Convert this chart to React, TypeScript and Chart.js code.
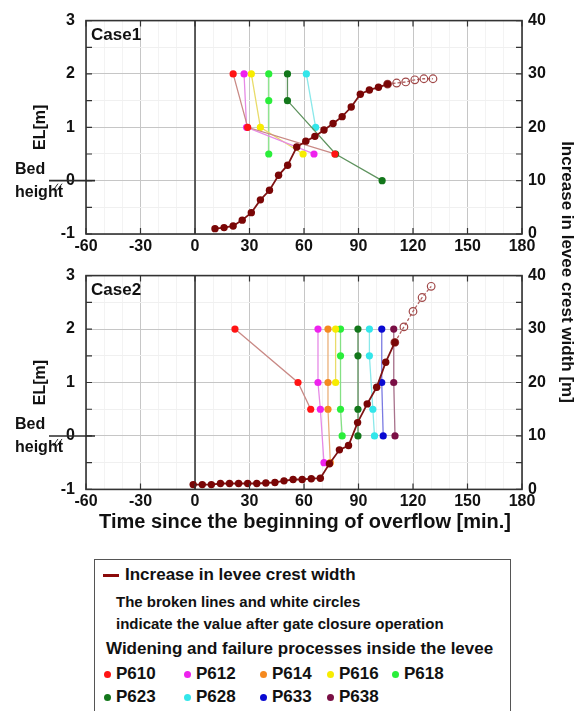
import React, { useEffect, useRef } from 'react';
import { Chart, registerables } from 'chart.js';

Chart.register(...registerables);

// ---------- Data ----------
const xTickValues = [-60, -30, 0, 30, 60, 90, 120, 150, 180];
const elTickValues = [-1, 0, 1, 2, 3];
const widthTickValues = [0, 10, 20, 30, 40];

// Case 1: increase in levee crest width [m] (right axis)
const case1Time = [11, 16, 21, 26, 31, 36, 41, 46, 51, 56, 61, 66, 71, 76, 81, 86, 91, 96, 101, 106];
const case1Width = [1.0, 1.2, 1.5, 2.6, 4.0, 6.4, 8.2, 11.0, 12.9, 16.3, 17.4, 18.3, 19.5, 20.7, 22.0, 23.8, 26.2, 27.0, 27.5, 28.1];
const case1AfterTime = [106, 111, 116, 121, 126, 131];
const case1AfterWidth = [28.1, 28.3, 28.5, 28.9, 29.1, 29.1];

// Case 1: widening / failure processes (time, EL)
const case1P610 = [[21, 2], [29, 1], [77, 0.5]];
const case1P612 = [[27, 2], [28.4, 1], [65.5, 0.5]];
const case1P616 = [[31, 2], [36, 1], [59.5, 0.5]];
const case1P618 = [[40.6, 2], [40.6, 1.5], [40.6, 0.5]];
const case1P623 = [[50.9, 2], [50.9, 1.5], [77.4, 0.5], [103, 0]];
const case1P628 = [[61.3, 2], [66.4, 1]];

// Case 2: increase in levee crest width [m]
const case2Time = [-1, 4, 9, 14, 19, 24, 29, 34, 39, 44, 49, 54, 59, 64, 69, 74, 79.5, 84.5, 89.5, 94.8, 100, 105, 110];
const case2Width = [0.9, 0.9, 0.9, 1.1, 1.1, 1.1, 1.1, 1.1, 1.2, 1.3, 1.6, 1.85, 1.85, 2.0, 2.1, 4.8, 7.4, 8.2, 12.5, 16.0, 19.1, 23.8, 27.5];
const case2AfterTime = [110, 115, 120, 125, 130];
const case2AfterWidth = [27.5, 30.4, 33.3, 35.9, 38.0];

// Case 2: widening / failure processes (time, EL)
const case2P610 = [[22, 2], [56.7, 1], [63.7, 0.5]];
const case2P612 = [[67.7, 2], [67.7, 1], [69, 0.5], [71, -0.5]];
const case2P614 = [[73.2, 2], [73.2, 1], [73.2, 0.5], [74.5, -0.5]];
const case2P616 = [[77.4, 2], [77.4, 1]];
const case2P618 = [[80.1, 2], [80.1, 1.5], [80.1, 0.5], [81, 0]];
const case2P623 = [[89.7, 2], [89.7, 1.5], [89.7, 0.5], [89.7, 0]];
const case2P628 = [[96, 2], [96, 1.5], [97.9, 0.5], [98.8, 0]];
const case2P633 = [[102.8, 2], [102.8, 1], [103.6, 0]];
const case2P638 = [[109.4, 2], [109.4, 1], [110.1, 0]];

const sensorNames = ['P610', 'P612', 'P614', 'P616', 'P618', 'P623', 'P628', 'P633', 'P638'];

// ---------- Styles ----------
const FONT = '"Liberation Sans", Arial, Helvetica, sans-serif';
const sensorPointColors: Record<string, string> = {
  P610: '#ff1414', P612: '#ee22ee', P614: '#f5891f', P616: '#f7ec00', P618: '#2aee3a',
  P623: '#13771b', P628: '#33e6ea', P633: '#0a0ad2', P638: '#7a0f45',
};
const sensorLineColors: Record<string, string> = {
  P610: '#c98a86', P612: '#e68ae6', P614: '#eab07a', P616: '#e9dc6a', P618: '#84e184',
  P623: '#5f935f', P628: '#8ae8ea', P633: '#7a7ae2', P638: '#a9728c',
};
const crestColor = '#7a0606';
const crestLine = '#7f1414';
const crestAfterLine = '#b26262';

const CANVAS_W = 577;
const CHART_H = 255;

function sensorDataset(name: string, pts: number[][]) {
  return {
    label: name,
    data: pts.map(([x, y]) => ({ x, y })),
    yAxisID: 'y',
    showLine: true,
    borderColor: sensorLineColors[name],
    borderWidth: 1.3,
    backgroundColor: sensorPointColors[name],
    pointBackgroundColor: sensorPointColors[name],
    pointBorderColor: sensorPointColors[name],
    pointRadius: 3.6,
    pointBorderWidth: 0,
    tension: 0,
  };
}

function crestDatasets(time: number[], width: number[], afterTime: number[], afterWidth: number[]) {
  return [
    {
      label: 'Increase in levee crest width',
      data: time.map((t, i) => ({ x: t, y: width[i] })),
      yAxisID: 'y2',
      showLine: true,
      borderColor: crestLine,
      borderWidth: 1.8,
      backgroundColor: crestColor,
      pointBackgroundColor: crestColor,
      pointBorderColor: crestColor,
      pointRadius: 3.7,
      pointBorderWidth: 0,
      tension: 0,
    },
    {
      label: 'after gate closure',
      data: afterTime.map((t, i) => ({ x: t, y: afterWidth[i] })),
      yAxisID: 'y2',
      showLine: true,
      borderColor: crestAfterLine,
      borderWidth: 1.3,
      borderDash: [3, 2],
      backgroundColor: 'rgba(255,255,255,0)',
      pointBackgroundColor: 'rgba(255,255,255,0)',
      pointBorderColor: '#a04848',
      pointRadius: 3.8,
      pointBorderWidth: 1.2,
      tension: 0,
    },
  ];
}

const extrasPlugin = {
  id: 'extras',
  beforeDatasetsDraw(chart: any) {
    const { ctx, chartArea } = chart;
    const x0 = chart.scales.x.getPixelForValue(0);
    ctx.save();
    ctx.strokeStyle = '#3a3a3a';
    ctx.lineWidth = 1.6;
    ctx.beginPath();
    ctx.moveTo(x0, chartArea.top);
    ctx.lineTo(x0, chartArea.bottom);
    ctx.stroke();
    ctx.restore();
  },
  afterDraw(chart: any, _args: any, opts: any) {
    const { ctx, chartArea } = chart;
    const { left, right, top, bottom } = chartArea;
    const xs = chart.scales.x;
    const ys = chart.scales.y;
    const y2 = chart.scales.y2;
    ctx.save();
    // frame
    ctx.strokeStyle = '#333';
    ctx.lineWidth = 1.6;
    ctx.strokeRect(left, top, right - left, bottom - top);
    // inward ticks
    ctx.lineWidth = 1.2;
    ctx.beginPath();
    for (let v = -1; v <= 3.001; v += 0.5) {
      const py = ys.getPixelForValue(v);
      ctx.moveTo(left, py);
      ctx.lineTo(left + 6, py);
    }
    for (let v = 0; v <= 40.01; v += 5) {
      const py = y2.getPixelForValue(v);
      ctx.moveTo(right, py);
      ctx.lineTo(right - 6, py);
    }
    for (const v of xTickValues) {
      const px = xs.getPixelForValue(v);
      ctx.moveTo(px, top);
      ctx.lineTo(px, top + 6);
      ctx.moveTo(px, bottom);
      ctx.lineTo(px, bottom - 6);
    }
    ctx.stroke();

    // Bed height marker
    const yb = ys.getPixelForValue(0);
    ctx.strokeStyle = '#2a2a2a';
    ctx.lineWidth = 1.6;
    ctx.beginPath();
    ctx.moveTo(left - 37, yb);
    ctx.lineTo(left + 9, yb);
    ctx.stroke();
    ctx.lineWidth = 1;
    ctx.beginPath();
    ctx.moveTo(left - 33, yb + 10);
    ctx.lineTo(left - 28, yb + 3);
    ctx.moveTo(left - 29, yb + 10);
    ctx.lineTo(left - 24, yb + 3);
    ctx.stroke();

    ctx.fillStyle = '#111';
    ctx.font = `bold 16px ${FONT}`;
    ctx.textAlign = 'left';
    ctx.textBaseline = 'middle';
    ctx.fillText('Bed', 15, yb - 11);
    ctx.fillText('height', 15, yb + 12);

    // EL[m] title
    ctx.save();
    ctx.translate(41, (top + bottom) / 2);
    ctx.rotate(-Math.PI / 2);
    ctx.textAlign = 'center';
    ctx.font = `bold 16px ${FONT}`;
    ctx.fillText('EL[m]', 0, 0);
    ctx.restore();

    // Case label
    ctx.font = `bold 17px ${FONT}`;
    ctx.textAlign = 'left';
    ctx.fillText(opts.label, left + 5, top + 15);
    ctx.restore();
  },
};

function makeConfig(label: string, datasets: any[], padTop: number, xHeight: number) {
  const tickFont = { family: FONT, size: 16, weight: 'bold' as const };
  return {
    type: 'scatter' as const,
    data: { datasets },
    options: {
      responsive: false,
      maintainAspectRatio: false,
      animation: false as const,
      events: [],
      layout: { padding: { top: padTop, left: 0, right: 0, bottom: 0 } },
      plugins: {
        legend: { display: false },
        tooltip: { enabled: false },
        extras: { label },
      },
      scales: {
        x: {
          type: 'linear' as const,
          min: -60,
          max: 180,
          ticks: {
            stepSize: 10,
            autoSkip: false,
            maxRotation: 0,
            padding: 3,
            color: '#111',
            font: tickFont,
            callback: (v: any) => (xTickValues.includes(Number(v)) ? String(v) : ''),
          },
          grid: {
            drawTicks: false,
            lineWidth: 1,
            color: (c: any) => (xTickValues.includes(c.tick?.value) ? '#c6c6c6' : '#f3f3f3'),
          },
          border: { display: false },
          afterFit: (s: any) => { s.height = xHeight; },
        },
        y: {
          type: 'linear' as const,
          position: 'left' as const,
          min: -1,
          max: 3,
          ticks: {
            stepSize: 0.5,
            autoSkip: false,
            padding: 11,
            color: '#111',
            font: tickFont,
            callback: (v: any) => (elTickValues.includes(Number(v)) ? String(v) : ''),
          },
          grid: {
            drawTicks: false,
            lineWidth: 1,
            color: (c: any) => (elTickValues.includes(c.tick?.value) ? '#c6c6c6' : '#f0f0f0'),
          },
          border: { display: false },
          afterFit: (s: any) => { s.width = 86; },
        },
        y2: {
          type: 'linear' as const,
          position: 'right' as const,
          min: 0,
          max: 40,
          ticks: {
            stepSize: 10,
            padding: 6,
            color: '#111',
            font: tickFont,
            callback: (v: any) => (widthTickValues.includes(Number(v)) ? String(v) : ''),
          },
          grid: { display: false, drawTicks: false },
          border: { display: false },
          afterFit: (s: any) => { s.width = CANVAS_W - 522; },
        },
      },
    },
    plugins: [extrasPlugin],
  };
}

function CaseChart({ label, datasets, padTop, xHeight }: { label: string; datasets: any[]; padTop: number; xHeight: number }) {
  const ref = useRef<HTMLCanvasElement | null>(null);
  useEffect(() => {
    if (!ref.current) return;
    const chart = new Chart(ref.current, makeConfig(label, datasets, padTop, xHeight) as any);
    return () => chart.destroy();
  }, []);
  return <canvas ref={ref} width={CANVAS_W} height={CHART_H} style={{ display: 'block', width: CANVAS_W, height: CHART_H }} />;
}

const case1Sets = [
  ...crestDatasets(case1Time, case1Width, case1AfterTime, case1AfterWidth),
  sensorDataset('P610', case1P610),
  sensorDataset('P612', case1P612),
  sensorDataset('P616', case1P616),
  sensorDataset('P618', case1P618),
  sensorDataset('P623', case1P623),
  sensorDataset('P628', case1P628),
];

const case2Sets = [
  ...crestDatasets(case2Time, case2Width, case2AfterTime, case2AfterWidth),
  sensorDataset('P610', case2P610),
  sensorDataset('P612', case2P612),
  sensorDataset('P614', case2P614),
  sensorDataset('P616', case2P616),
  sensorDataset('P618', case2P618),
  sensorDataset('P623', case2P623),
  sensorDataset('P628', case2P628),
  sensorDataset('P633', case2P633),
  sensorDataset('P638', case2P638),
];

const textStyle = (size: number): React.CSSProperties => ({
  position: 'absolute',
  fontFamily: FONT,
  fontWeight: 'bold',
  fontSize: size,
  lineHeight: '20px',
  height: 20,
  whiteSpace: 'nowrap',
  color: '#111',
});

const legendDotX = [107, 187, 263, 330, 395];

export default function App() {
  return (
    <div style={{ position: 'absolute', left: 0, top: 0, width: CANVAS_W, height: 711, background: '#fff', overflow: 'hidden' }}>
      <div style={{ position: 'absolute', left: 0, top: 0 }}>
        <CaseChart label="Case1" datasets={case1Sets} padTop={17} xHeight={CHART_H - 234} />
      </div>
      <div style={{ position: 'absolute', left: 0, top: CHART_H }}>
        <CaseChart label="Case2" datasets={case2Sets} padTop={274 - CHART_H} xHeight={CHART_H - (490 - CHART_H)} />
      </div>

      {/* right axis title */}
      <div
        style={{
          ...textStyle(17),
          left: 567 - 160,
          top: 272 - 10,
          width: 320,
          textAlign: 'center',
          transform: 'rotate(90deg)',
        }}
      >
        Increase in levee crest width [m]
      </div>

      {/* x axis title */}
      <div style={{ ...textStyle(20), left: 305 - 250, top: 521 - 12, width: 500, height: 24, lineHeight: '24px', textAlign: 'center' }}>
        Time since the beginning of overflow [min.]
      </div>

      {/* legend box */}
      <div style={{ position: 'absolute', left: 94, top: 559, width: 417, height: 170, border: '1.5px solid #555', boxSizing: 'border-box' }} />
      <div style={{ position: 'absolute', left: 103, top: 574, width: 16, height: 2.5, background: '#8b0a0a' }} />
      <div style={{ ...textStyle(17), left: 125, top: 575 - 10 }}>Increase in levee crest width</div>
      <div style={{ ...textStyle(15), left: 116, top: 602 - 10 }}>The broken lines and white circles</div>
      <div style={{ ...textStyle(15), left: 116, top: 624 - 10 }}>indicate the value after gate closure operation</div>
      <div style={{ ...textStyle(17), left: 106, top: 649 - 10 }}>Widening and failure processes inside the levee</div>
      {sensorNames.map((name, i) => {
        const row = i < 5 ? 0 : 1;
        const col = i < 5 ? i : i - 5;
        const cy = row === 0 ? 674 : 697;
        const cx = legendDotX[col];
        return (
          <React.Fragment key={name}>
            <div
              style={{
                position: 'absolute',
                left: cx - 3.5,
                top: cy - 3.5,
                width: 7,
                height: 7,
                borderRadius: '50%',
                background: sensorPointColors[name],
              }}
            />
            <div style={{ ...textStyle(17), left: cx + 9, top: cy - 10 }}>{name}</div>
          </React.Fragment>
        );
      })}
    </div>
  );
}
